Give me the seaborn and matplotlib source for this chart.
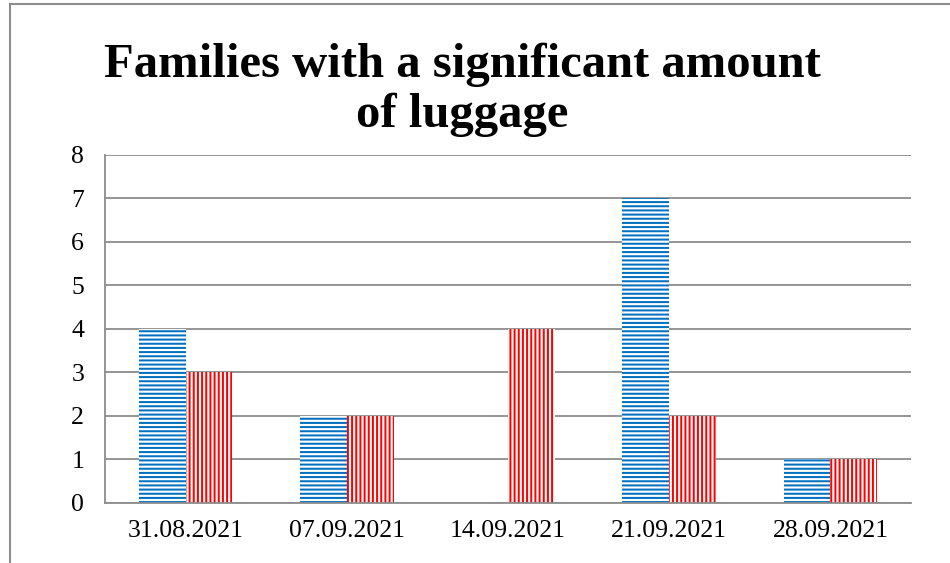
import matplotlib.pyplot as plt
import matplotlib.patches as mpatches
import pandas as pd
import seaborn as sns

dates = ["31.08.2021", "07.09.2021", "14.09.2021", "21.09.2021", "28.09.2021"]
series_a = [4, 2, 0, 7, 1]
series_b = [3, 2, 4, 2, 1]

df = pd.DataFrame({
    "date": dates * 2,
    "count": series_a + series_b,
    "series": ["A"] * len(dates) + ["B"] * len(dates),
})

sns.set_style("white")
plt.rcParams["font.family"] = ["Liberation Serif", "DejaVu Serif"]
plt.rcParams["hatch.linewidth"] = 1.45
plt.rcParams["text.color"] = "black"
plt.rcParams["xtick.color"] = "black"
plt.rcParams["ytick.color"] = "black"

fig = plt.figure(figsize=(9.5, 5.63), dpi=100)
ax = fig.add_axes([0.1105, 0.1066, 0.8485, 0.6181])

colors = {"A": "#0070C0", "B": "#FF0000"}
sns.barplot(data=df, x="date", y="count", hue="series", order=dates,
            palette=colors, width=0.58, gap=0, legend=False, ax=ax)

hatches = {"A": "----", "B": "||||"}
for cont, key in zip(ax.containers, ["A", "B"]):
    for bar in cont:
        bar.set_facecolor("white")
        bar.set_edgecolor(colors[key])
        bar.set_linewidth(0)
        bar.set_hatch(hatches[key])

ax.set_ylim(0, 8)
ax.set_yticks(range(0, 9))
ax.yaxis.grid(True, color="#8C8C8C", linewidth=1.3)
ax.set_axisbelow(True)
for side in ["top", "right"]:
    ax.spines[side].set_visible(False)
for side in ["left", "bottom"]:
    ax.spines[side].set_color("#8C8C8C")
    ax.spines[side].set_linewidth(1.3)
ax.tick_params(axis="both", length=0, labelsize=18.5, labelcolor="black")
ax.tick_params(axis="y", pad=15)
ax.tick_params(axis="x", pad=12)
ax.set_xlabel("")
ax.set_ylabel("")

# title in two lines, placed by baseline
fig.text(0.487, 1 - 77 / 563, "Families with a significant amount",
         ha="center", va="baseline", fontsize=35, fontweight="bold",
         color="black")
fig.text(0.486, 1 - 127 / 563, "of luggage",
         ha="center", va="baseline", fontsize=35, fontweight="bold",
         color="black")

# outer chart frame (top and left edges visible)
fig.patches.append(mpatches.Rectangle((0.0105, -0.1), 1.2, 1.093,
                                      transform=fig.transFigure,
                                      fill=False, edgecolor="#8C8C8C",
                                      linewidth=1.5))

fig.savefig("out.png", dpi=100)
